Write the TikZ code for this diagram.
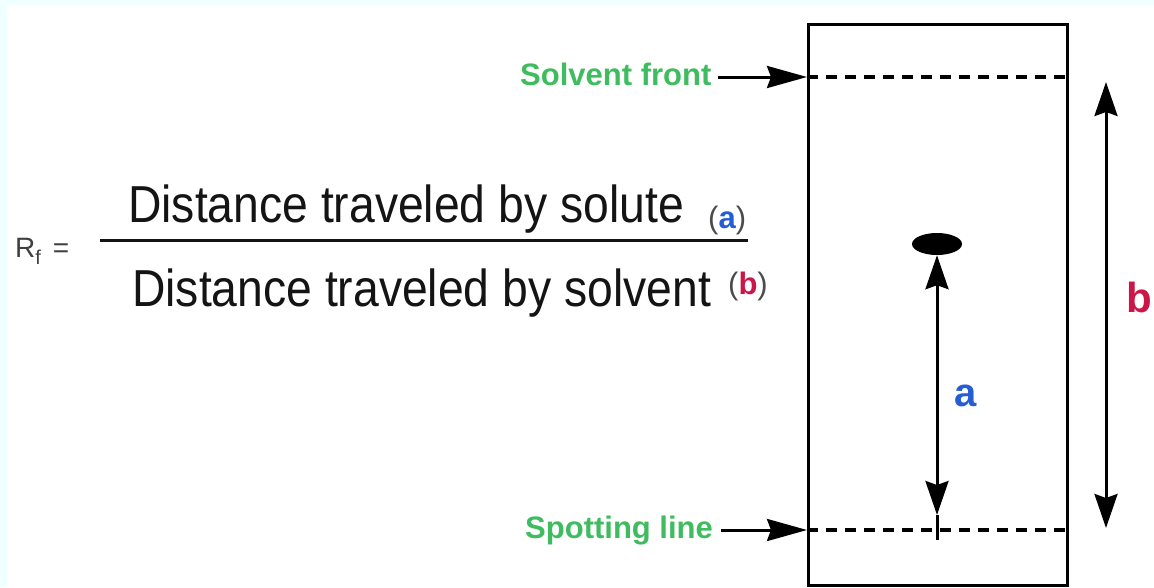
\documentclass[tikz,border=0pt]{standalone}
\usepackage{fontspec}
\setmainfont{Liberation Sans}
\newfontfamily\narrowsans[FakeStretch=0.89]{Liberation Sans}
\usetikzlibrary{arrows.meta, positioning, shapes.geometric}
\definecolor{labelgreen}{RGB}{64, 188, 96}
\definecolor{ablue}{RGB}{38, 92, 212}
\definecolor{bred}{RGB}{204, 22, 72}
\definecolor{edgecyan}{RGB}{240, 255, 255}
\definecolor{inkgray}{RGB}{20, 20, 20}

\begin{document}
\begin{tikzpicture}[x=1pt, y=-1pt,
  lbl/.style={font=\fontsize{31}{36}\selectfont\bfseries, text=labelgreen, inner sep=0pt, anchor=base west},
  frac/.style={font=\narrowsans\fontsize{52}{60}\selectfont, text=inkgray, inner sep=0pt, anchor=base west},
  tag/.style={font=\fontsize{31}{36}\selectfont, text=black!70, inner sep=0pt, anchor=base west},
  arr/.style={line width=3pt, -{Stealth[length=40pt, width=22pt, inset=4pt]}},
  dimarr/.style={line width=3pt, {Stealth[length=34pt, width=23pt, inset=4pt]}-{Stealth[length=34pt, width=23pt, inset=4pt]}},
  frontline/.style={line width=4pt, dash pattern=on 11pt off 8pt}
]
  % page
  \fill[edgecyan] (0,0) rectangle (1154,587);
  \fill[white] (7,5) rectangle (1154,587);
  \useasboundingbox (0,0) rectangle (1154,587);

  % formula
  \node[font=\fontsize{28}{32}\selectfont, text=black!75, inner sep=0pt, anchor=base west] (rf) at (15,257)
    {R\raisebox{-7pt}{\fontsize{20}{20}\selectfont f}\hspace{12pt}=};
  \node[frac] (num) at (128,222) {Distance traveled by solute};
  \node[frac] (den) at (132,306) {Distance traveled by solvent};
  \draw[line width=3pt, inkgray] (100,240) -- (748,240);
  \node[tag] (atag) at (708,228) {(\textcolor{ablue}{\bfseries a})};
  \node[tag] (btag) at (728,294) {(\textcolor{bred}{\bfseries b})};

  % plate
  \node[draw, line width=3pt, minimum width=259pt, minimum height=561pt, inner sep=0pt, anchor=north west] (plate) at (807,23) {};
  \coordinate (sf) at (807,77);
  \coordinate (sl) at (807,530);
  \draw[frontline] (sf) -- (sf -| plate.east);
  \draw[frontline] (sl) -- (sl -| plate.east);

  \node[lbl] (sflabel) at (520,85) {Solvent front};
  \node[lbl] (sllabel) at (525,538) {Spotting line};
  \draw[arr] (sflabel.east |- sf) ++(6,0) -- (sf);
  \draw[arr] (sllabel.east |- sl) ++(8,0) -- (sl);

  % spot and distances
  \node[ellipse, fill=black, minimum width=50pt, minimum height=22pt, inner sep=0pt] (spot) at (937,244) {};
  \coordinate (aend) at (937,515);
  \coordinate (atail) at (937,540);
  \draw[dimarr] (spot.south) -- (aend);
  \draw[line width=3pt] (aend) -- (atail);
  \node[font=\fontsize{40}{44}\selectfont\bfseries, text=ablue] (alabel) at (966,396) {a};

  \coordinate (btop) at (1106,82);
  \coordinate (bbot) at (1106,528);
  \draw[dimarr] (btop) -- (bbot);
  \node[font=\fontsize{42}{46}\selectfont\bfseries, text=bred] (blabel) at (1139,297) {b};
\end{tikzpicture}
\end{document}
